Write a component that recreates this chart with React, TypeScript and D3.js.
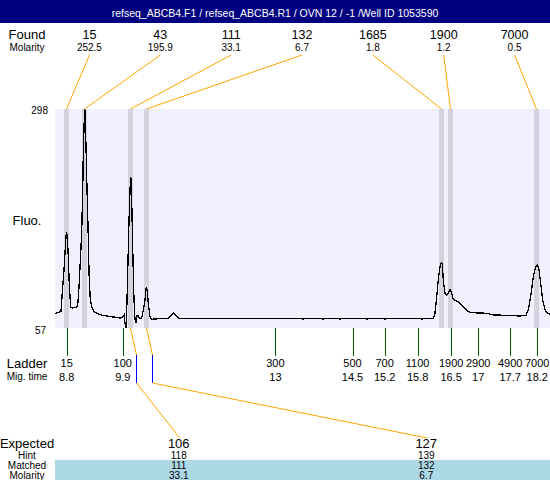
import React, { useRef, useEffect } from 'react';
import * as d3 from 'd3';

const W = 550;
const H = 480;
const PLOT = { left: 55, right: 550, top: 109, bottom: 328 };
const FONT = '"Liberation Sans", Arial, sans-serif';

const TITLE = 'refseq_ABCB4.F1 / refseq_ABCB4.R1 / OVN 12 / -1 /Well ID 1053590';

// peaks found in the run
const foundSizes = [15, 43, 111, 132, 1685, 1900, 7000];
const foundMolarity = [252.5, 195.9, 33.1, 6.7, 1.8, 1.2, 0.5];
const foundTimes = [8.796, 9.156, 10.074, 10.394, 16.287, 16.467, 18.185];

// ladder (size bp / migration time)
const ladderSizes = [15, 100, 300, 500, 700, 1100, 1900, 2900, 4900, 7000];
const ladderTimes = [8.8, 9.92, 12.97, 14.51, 15.151, 15.81, 16.48, 17.02, 17.66, 18.2];

// expected fragments
const expectedSizes = [106, 127];
const hintSizes = [118, 139];
const matchedSizes = [111, 132];
const matchedMolarity = [33.1, 6.7];
const matchedFound = [2, 3];
const expectedTimes = [10.19, 10.51];

const fluoRange = [57, 298];
const timeRange = [8.566, 18.455];

// electropherogram trace
const traceTime = [
    8.566, 8.686, 8.712, 8.746, 8.772, 8.792, 8.812, 8.832, 8.852, 8.88, 8.912, 9.0, 9.02, 9.046, 9.08, 9.1,
    9.12, 9.132, 9.152, 9.16, 9.186, 9.206, 9.226, 9.246, 9.271, 9.311, 9.365, 9.499, 9.699, 9.865, 9.919,
    9.945, 9.965, 9.985, 10.005, 10.025, 10.045, 10.065, 10.078, 10.09, 10.104, 10.124, 10.144, 10.164,
    10.184, 10.198, 10.23, 10.264, 10.298, 10.33, 10.364, 10.39, 10.41, 10.43, 10.464, 10.498, 10.764,
    10.83, 10.93, 11.03, 13.48, 13.52, 13.56, 13.88, 13.92, 13.96, 14.22, 14.26, 14.3, 14.76, 14.8, 14.84,
    15.12, 15.16, 15.2, 15.85, 15.89, 15.93, 16.123, 16.157, 16.191, 16.223, 16.257, 16.283, 16.303,
    16.323, 16.357, 16.391, 16.423, 16.457, 16.491, 16.523, 16.591, 16.657, 16.723, 16.823, 16.923, 17.19,
    17.322, 17.59, 17.856, 17.975, 18.021, 18.069, 18.121, 18.169, 18.201, 18.229, 18.269, 18.309, 18.355,
    18.409, 18.455,
];
const traceFluo = [
    73, 75, 97, 121, 146, 162, 158, 135, 104, 80, 79, 80, 82, 102, 140, 165,
    209, 253, 288, 302, 256, 209, 168, 117, 88, 78, 74, 71, 69.4, 68, 68.8,
    71.3, 62, 54, 88, 132, 176, 209, 223.5, 220, 183, 132, 88, 66,
    62.8, 70.2, 70.2, 67, 67.7, 77, 88, 102.5, 97, 84, 69.4, 66.6, 67.7,
    67.7, 73.8, 67.7, 67.7, 66.6, 67.7, 67.7, 66.6, 67.7, 67.7, 66.6, 67.7, 67.7, 66.6, 67.7,
    67.7, 66.6, 67.7, 67.7, 66.6, 67.7, 67.7, 73.2, 91.4, 109.8, 124.5, 129.3, 128.2,
    109.8, 95.2, 93.3, 95.2, 99.6, 95.2, 88.6, 86.7, 84.2, 80.4, 74.9, 73.8, 73.2,
    71.3, 71, 70.2, 71, 76.8, 91.4, 113.5, 124.5, 126.3, 123.8, 106.2, 87.8, 76.8,
    73.2, 72.4,
];

const fmt1 = (v: number) => String(+v.toFixed(1));

export default function App() {
    const svgRef = useRef<SVGSVGElement>(null);

    useEffect(() => {
        document.body.style.margin = '0';
        const svg = d3.select(svgRef.current);
        svg.selectAll('*').remove();

        const x = d3.scaleLinear().domain(timeRange).range([PLOT.left, PLOT.right]);
        const y = d3.scaleLinear().domain(fluoRange).range([PLOT.bottom, PLOT.top]);
        const foundCol = d3.scaleBand<number>().domain(d3.range(foundSizes.length)).range([54, 550]);
        const expCol = d3.scaleBand<number>().domain(d3.range(expectedSizes.length)).range([55, 550]);
        const fc = (i: number) => foundCol(i)! + foundCol.bandwidth() / 2;
        const ec = (i: number) => expCol(i)! + expCol.bandwidth() / 2;

        // title bar
        svg.append('rect').attr('x', 0).attr('y', 0).attr('width', W).attr('height', 23).attr('fill', '#000080');
        svg.append('text')
            .attr('x', W / 2).attr('y', 17)
            .attr('text-anchor', 'middle')
            .attr('fill', '#fff').attr('font-size', '10.5px')
            .text(TITLE);

        const label = (txt: string, yy: number, size: number) =>
            svg.append('text')
                .attr('x', 27).attr('y', yy)
                .attr('text-anchor', 'middle')
                .attr('font-size', `${size}px`)
                .text(txt);

        // found header rows
        label('Found', 39, 13);
        label('Molarity', 51, 10);
        svg.append('g').selectAll('text')
            .data(foundSizes)
            .join('text')
            .attr('x', (_, i) => fc(i)).attr('y', 39)
            .attr('text-anchor', 'middle').attr('font-size', '12.5px')
            .text(d => d);
        svg.append('g').selectAll('text')
            .data(foundMolarity)
            .join('text')
            .attr('x', (_, i) => fc(i)).attr('y', 51)
            .attr('text-anchor', 'middle').attr('font-size', '10px')
            .text(d => d.toFixed(1));

        // plot background
        svg.append('rect')
            .attr('x', PLOT.left).attr('y', PLOT.top)
            .attr('width', PLOT.right - PLOT.left).attr('height', PLOT.bottom - PLOT.top)
            .attr('fill', '#F0F0FF');

        // peak bands
        svg.append('g').selectAll('rect')
            .data(foundTimes)
            .join('rect')
            .attr('x', d => Math.round(x(d) - 2.5)).attr('y', PLOT.top)
            .attr('width', d => Math.round(x(d + 0.05) - x(d - 0.05))).attr('height', PLOT.bottom - PLOT.top)
            .attr('fill', '#D3D3E0');

        // trace
        const clipId = 'plot-clip';
        svg.append('clipPath').attr('id', clipId)
            .append('rect')
            .attr('x', PLOT.left).attr('y', PLOT.top)
            .attr('width', PLOT.right - PLOT.left).attr('height', PLOT.bottom - PLOT.top);
        const line = d3.line<number>()
            .x((_, i) => x(traceTime[i]))
            .y(d => y(d));
        svg.append('path')
            .datum(traceFluo)
            .attr('clip-path', `url(#${clipId})`)
            .attr('d', line)
            .attr('fill', 'none').attr('stroke', '#000').attr('stroke-width', 1.3)
            .attr('shape-rendering', 'crispEdges');

        // y labels
        svg.append('text').attr('x', 48).attr('y', y(fluoRange[1]) + 5)
            .attr('text-anchor', 'end').attr('font-size', '10px').text(fluoRange[1]);
        svg.append('text').attr('x', 46).attr('y', y(fluoRange[0]) + 6)
            .attr('text-anchor', 'end').attr('font-size', '10px').text(fluoRange[0]);
        label('Fluo.', 225, 13);

        // found -> band connectors
        svg.append('g').selectAll('line')
            .data(foundTimes)
            .join('line')
            .attr('x1', (_, i) => fc(i)).attr('y1', 55)
            .attr('x2', d => x(d)).attr('y2', PLOT.top)
            .attr('stroke', '#FFA500').attr('stroke-width', 1);

        // ladder
        svg.append('g').selectAll('line')
            .data(ladderTimes)
            .join('line')
            .attr('x1', d => Math.round(x(d)) + 0.5).attr('x2', d => Math.round(x(d)) + 0.5)
            .attr('y1', PLOT.bottom).attr('y2', 356)
            .attr('stroke', '#006400').attr('stroke-width', 1)
            .attr('shape-rendering', 'crispEdges');
        label('Ladder', 368, 13);
        label('Mig. time', 380, 10);
        svg.append('g').selectAll('text')
            .data(ladderSizes)
            .join('text')
            .attr('x', (_, i) => x(ladderTimes[i])).attr('y', 367)
            .attr('text-anchor', 'middle').attr('font-size', '11px')
            .text(d => d);
        svg.append('g').selectAll('text')
            .data(ladderTimes)
            .join('text')
            .attr('x', d => x(d)).attr('y', 381)
            .attr('text-anchor', 'middle').attr('font-size', '11px')
            .text(d => fmt1(d));

        // matched -> expected connectors
        const conn = svg.append('g');
        expectedTimes.forEach((t, i) => {
            const xb = x(foundTimes[matchedFound[i]]);
            const xe = Math.round(x(t)) + 0.5;
            conn.append('line')
                .attr('x1', xb).attr('y1', PLOT.bottom).attr('x2', xe).attr('y2', 355)
                .attr('stroke', '#FFA500');
            conn.append('line')
                .attr('x1', xe).attr('x2', xe).attr('y1', 355).attr('y2', 383)
                .attr('stroke', '#0000FF').attr('shape-rendering', 'crispEdges');
            conn.append('line')
                .attr('x1', xe).attr('y1', 383).attr('x2', ec(i) + 1).attr('y2', 438)
                .attr('stroke', '#FFA500');
        });

        // expected table
        svg.append('rect')
            .attr('x', 55).attr('y', 460).attr('width', W - 55).attr('height', 20)
            .attr('fill', '#ADD8E6');
        label('Expected', 448, 13);
        label('Hint', 459, 10);
        label('Matched', 469, 10);
        label('Molarity', 479, 10);
        const rows: [number[], number, number, (v: number) => string][] = [
            [expectedSizes, 448, 13, v => String(v)],
            [hintSizes, 459, 10, v => String(v)],
            [matchedSizes, 469, 10, v => String(v)],
            [matchedMolarity, 479, 10, v => v.toFixed(1)],
        ];
        rows.forEach(([vals, yy, size, f]) => {
            svg.append('g').selectAll('text')
                .data(vals)
                .join('text')
                .attr('x', (_, i) => ec(i)).attr('y', yy)
                .attr('text-anchor', 'middle').attr('font-size', `${size}px`)
                .text(d => f(d));
        });
    }, []);

    return (
        <svg
            ref={svgRef}
            width={W}
            height={H}
            style={{ display: 'block', background: '#fff', fontFamily: FONT }}
        />
    );
}
